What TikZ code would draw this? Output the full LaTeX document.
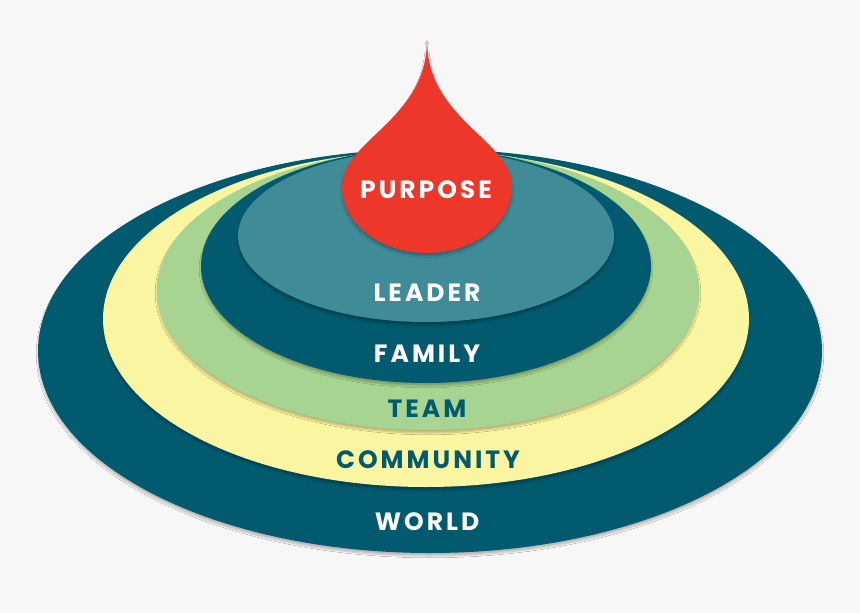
\documentclass[tikz,border=0pt]{standalone}
\usepackage{fontspec}
\newfontfamily\labelfont{Poppins}[LetterSpace=12]
\usetikzlibrary{shadows.blur}

\definecolor{paper}{HTML}{F7F7F7}
\definecolor{worldblue}{HTML}{015A6D}
\definecolor{communityyellow}{HTML}{FAF5A0}
\definecolor{teamgreen}{HTML}{A7D591}
\definecolor{leaderteal}{HTML}{3F8C98}
\definecolor{dropred}{HTML}{EE372B}

\tikzset{
  ringshadow/.style={blur shadow={shadow xshift=0pt, shadow yshift=-3pt, shadow blur steps=6, shadow opacity=25}},
  lighttext/.style={text=white},
  darktext/.style={text=worldblue}
}

\begin{document}
\begin{tikzpicture}[x=1pt, y=-1pt, every node/.style={font=\labelfont\bfseries\fontsize{25}{25}\selectfont, inner sep=0pt}]
			\fill[paper] (0,0) rectangle (860,613);

			% rings, outside in
			\fill[worldblue, ringshadow] (430,351) ellipse [x radius=392, y radius=202];
			\fill[communityyellow, ringshadow] (426,319) ellipse [x radius=323, y radius=168];
			\fill[teamgreen, ringshadow] (428,290) ellipse [x radius=271, y radius=140];
			\fill[worldblue, ringshadow] (426,266) ellipse [x radius=225, y radius=117];
			\fill[leaderteal, ringshadow] (426,236) ellipse [x radius=188, y radius=86];

			% drop
			\fill[dropred, ringshadow] (427,40) .. controls (427,120) and (342,140) .. (342,187)
				arc [start angle=180, end angle=0, x radius=85, y radius=66]
				.. controls (512,140) and (427,120) .. (427,40) -- cycle;

			\node[lighttext] (purpose) at (426,190) {PURPOSE};
			\node[lighttext] (leader) at (427,293) {LEADER};
			\node[lighttext] (family) at (427,354) {FAMILY};
			\node[darktext] (team) at (427,409) {TEAM};
			\node[darktext] (community) at (428,460) {COMMUNITY};
			\node[lighttext] (world) at (427,522) {WORLD};
		\end{tikzpicture}
\end{document}
